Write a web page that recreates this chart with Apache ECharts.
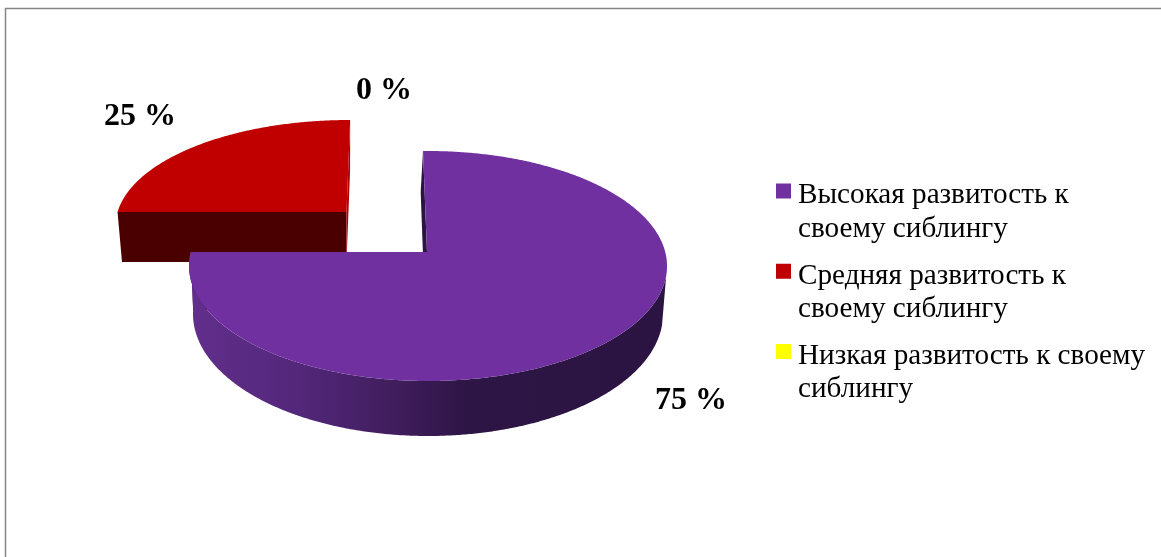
<!DOCTYPE html>
<html>
<head>
<meta charset="utf-8">
<style>html,body{margin:0;padding:0;background:#fff}#c{width:1161px;height:557px}</style>
<script src="https://cdn.jsdelivr.net/npm/echarts@6/dist/echarts.min.js"></script>
</head>
<body>
<div id="c"></div>
<script>
const categories = ['Высокая развитость к своему сиблингу', 'Средняя развитость к своему сиблингу', 'Низкая развитость к своему сиблингу'];
const legendLines = [['Высокая развитость к', 'своему сиблингу'], ['Средняя развитость к', 'своему сиблингу'], ['Низкая развитость к своему', 'сиблингу']];
const values = [75, 25, 0];
const topColors = ['#7030A0', '#C00000', '#FFFF00'];
const startFaceColors = ['#2B1442', '#4B0000', '#666600'];
const endFaceColors = ['#2B1442', '#B00000', '#666600'];

// Perspective model of each slice: apex, top rim ellipse, bottom rim ellipse.
const sliceModels = [
  { apex: [427, 252], top: { c: [428, 266], r: [239, 115] }, bottomApex: [425, 310], bottom: { c: [428, 314], r: [235, 122] }, lean: -0.019, labelShift: [79, 61] },
  { apex: [346.5, 212], top: { c: [349.5, 226], r: [234, 106] }, bottomApex: [346.5, 262], bottom: { c: [349.5, 276], r: [229.5, 106] }, lean: 0.018, labelShift: [-60, -28] },
  { apex: [427, 252], top: { c: [428, 266], r: [239, 115] }, bottomApex: [425, 310], bottom: { c: [428, 314], r: [235, 122] }, lean: 0, labelShift: [-43, -60] }
];
const frontFrom = 97, frontTo = 270;
const total = values.reduce((a, b) => a + b, 0);

function rimPoint(apex, ell, lean, deg) {
  const th = deg * Math.PI / 180;
  const dx = Math.sin(th) + lean * Math.cos(th), dy = -Math.cos(th);
  const ax = (apex[0] - ell.c[0]) / ell.r[0], ay = (apex[1] - ell.c[1]) / ell.r[1];
  const A = dx * dx + dy * dy, B = ax * dx + ay * dy, C = ax * ax + ay * ay - 1;
  const t = (-B + Math.sqrt(B * B - A * C)) / A;
  return [ell.c[0] + ell.r[0] * (ax + t * dx), ell.c[1] + ell.r[1] * (ay + t * dy)];
}
function arc(apex, ell, lean, from, to) {
  const pts = [];
  const n = Math.max(1, Math.ceil(Math.abs(to - from) * 2));
  for (let i = 0; i <= n; i++) pts.push(rimPoint(apex, ell, lean, from + (to - from) * i / n));
  return pts;
}
function poly(points, style, z2) {
  return { type: 'polygon', shape: { points }, style, z2 };
}
function renderSlice(params, api) {
  const i = params.seriesIndex, m = sliceModels[i], v = api.value(0);
  const start = values.slice(0, i).reduce((a, b) => a + b, 0) / total * 360;
  const end = start + v / total * 360;
  const kids = [];
  if (v > 0) {
    const near = rimPoint(m.apex, m.top, m.lean, start), far = rimPoint(m.apex, m.top, m.lean, end);
    const nearB = rimPoint(m.bottomApex, m.bottom, m.lean, start), farB = rimPoint(m.bottomApex, m.bottom, m.lean, end);
    // cut faces
    kids.push(poly([m.apex, near, nearB, m.bottomApex], { fill: startFaceColors[i] }, 1));
    kids.push(poly([m.apex, far, farB, m.bottomApex], { fill: endFaceColors[i] }, 1));
    // outer wall
    const a = Math.max(start, frontFrom), b = Math.min(end, frontTo);
    if (b > a) {
      const wall = arc(m.apex, m.top, m.lean, a, b).concat(arc(m.bottomApex, m.bottom, m.lean, b, a));
      kids.push(poly(wall, {
        fill: new echarts.graphic.LinearGradient(0, 0, 1, 0, [
          { offset: 0, color: '#622F8C' }, { offset: 0.23, color: '#53277A' },
          { offset: 0.44, color: '#3F1D5B' }, { offset: 0.58, color: '#2D1545' }, { offset: 1, color: '#2B1442' }
        ])
      }, 2));
    }
    kids.push(poly([m.apex].concat(arc(m.apex, m.top, m.lean, start, end)), { fill: topColors[i] }, 3));
  }
  const mid = rimPoint(m.apex, m.top, m.lean, (start + end) / 2);
  kids.push({
    type: 'text', z2: 5,
    style: {
      text: v + ' %', x: mid[0] + m.labelShift[0], y: mid[1] + m.labelShift[1],
      font: 'bold 32px "Liberation Serif"', fill: '#000', align: 'center', verticalAlign: 'middle'
    }
  });
  return { type: 'group', children: kids };
}

const chart = echarts.init(document.getElementById('c'), null, { renderer: 'canvas' });
chart.setOption({
  animation: false,
  backgroundColor: '#fff',
  graphic: [{
    type: 'rect', silent: true, z: 0,
    shape: { x: 5.5, y: 8.5, width: 1300, height: 700 },
    style: { fill: 'none', stroke: '#868686', lineWidth: 1.5 }
  }],
  legend: {
    orient: 'vertical', left: 776, top: 152.5, padding: 0,
    icon: 'rect', itemWidth: 15, itemHeight: 15, itemGap: -11, selectedMode: false,
    data: categories,
    formatter: name => '{gap| }\n' + legendLines[categories.indexOf(name)].map(l => '{line|' + l + '}').join('\n'),
    textStyle: {
      fontFamily: 'Liberation Serif', fontSize: 29.2, color: '#000', padding: [0, 0, 0, 2],
      rich: {
        gap: { lineHeight: 43, fontSize: 10, fontFamily: 'Liberation Serif' },
        line: { lineHeight: 33.5, fontSize: 29.2, fontFamily: 'Liberation Serif', color: '#000' }
      }
    }
  },
  series: categories.map((name, i) => ({
    type: 'custom', name, coordinateSystem: 'none',
    z: [3, 2, 4][i], silent: true, clip: false,
    itemStyle: { color: topColors[i] },
    encode: { value: 0 },
    data: [[values[i]]],
    renderItem: renderSlice
  }))
});
</script>
</body>
</html>
